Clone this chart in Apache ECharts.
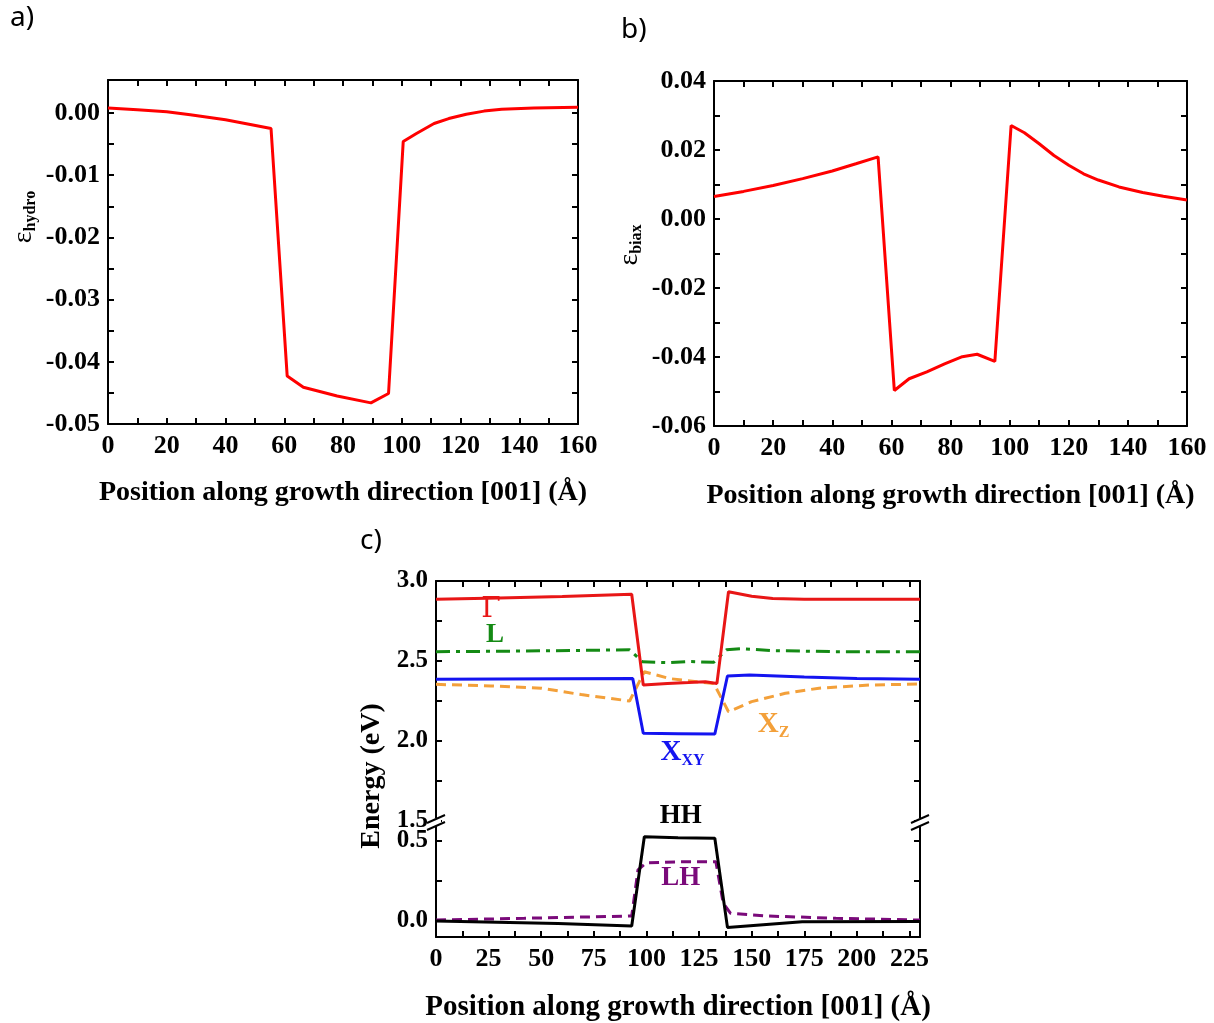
<!DOCTYPE html>
<html><head><meta charset="utf-8">
<script src="https://cdn.jsdelivr.net/npm/echarts@6/dist/echarts.min.js"></script>
<style>html,body{margin:0;padding:0;background:#fff}#c{width:1214px;height:1023px}</style>
</head><body><div id="c"></div>
<script>
// ---------- Panel a: hydrostatic strain ----------
const aX = [0, 10, 20, 28, 40, 48, 55.5, 61, 66.5, 78, 89.5, 95.5, 100.5, 105, 111, 116, 122, 128, 134, 145, 160];
const aY = [0.0008, 0.0005, 0.0002, -0.0003, -0.0011, -0.0018, -0.0025, -0.0423, -0.0441, -0.0455, -0.0466, -0.0451, -0.0046, -0.0033, -0.0017, -0.0009, -0.0002, 0.0003, 0.0006, 0.0008, 0.0009];
const aXTicks = [0,10,20,30,40,50,60,70,80,90,100,110,120,130,140,150,160];
const aXLabels = [0,20,40,60,80,100,120,140,160];
const aYTicks = [-0.05,-0.045,-0.04,-0.035,-0.03,-0.025,-0.02,-0.015,-0.01,-0.005,0];
const aYLabels = [-0.05,-0.04,-0.03,-0.02,-0.01,0];

// ---------- Panel b: biaxial strain ----------
const bX = [0, 10, 20, 30, 40, 48, 55.5, 61, 66, 72, 78, 84, 89, 95, 100.5, 105, 110, 115, 120, 125, 130, 137, 145, 152, 160];
const bY = [0.0065, 0.0080, 0.0097, 0.0117, 0.0139, 0.0160, 0.0180, -0.0497, -0.0463, -0.0443, -0.0420, -0.0399, -0.0392, -0.0413, 0.0271, 0.0250, 0.0218, 0.0184, 0.0156, 0.0131, 0.0113, 0.0093, 0.0077, 0.0066, 0.0055];
const bXTicks = aXTicks;
const bXLabels = aXLabels;
const bYTicks = [-0.06,-0.05,-0.04,-0.03,-0.02,-0.01,0,0.01,0.02,0.03,0.04];
const bYLabels = [-0.06,-0.04,-0.02,0,0.02,0.04];

// ---------- Panel c: band edges ----------
const gammaX = [0, 30, 60, 93, 98.5, 110, 120, 128, 133.5, 139, 150, 160, 175, 200, 230];
const gammaY = [2.886, 2.893, 2.903, 2.917, 2.35, 2.36, 2.365, 2.37, 2.36, 2.933, 2.905, 2.89, 2.886, 2.886, 2.886];
const lX = [0, 40, 92, 98, 110, 120, 132, 138, 145, 160, 190, 230];
const lY = [2.558, 2.562, 2.570, 2.495, 2.490, 2.497, 2.492, 2.570, 2.577, 2.565, 2.558, 2.558];
const xxyX = [0, 60, 93.5, 98.5, 115, 132.5, 138.5, 149, 175, 200, 230];
const xxyY = [2.386, 2.389, 2.390, 2.048, 2.046, 2.044, 2.406, 2.412, 2.400, 2.390, 2.386];
const xzX = [0, 26, 50, 69, 92, 99, 111, 124, 132, 139, 150, 166, 182, 206, 230];
const xzY = [2.354, 2.344, 2.330, 2.290, 2.250, 2.433, 2.390, 2.370, 2.360, 2.183, 2.246, 2.298, 2.330, 2.350, 2.356];
const hhX = [0, 58, 93, 99, 115, 132.5, 138.5, 174, 230];
const hhY = [0.0, -0.015, -0.031, 0.527, 0.520, 0.517, -0.040, -0.004, -0.003];
const lhX = [0, 42, 93, 96, 100, 115, 133, 136.5, 140, 158, 190, 230];
const lhY = [0.006, 0.017, 0.031, 0.32, 0.364, 0.370, 0.370, 0.11, 0.048, 0.031, 0.017, 0.006];
const cXTicks = [0,12.5,25,37.5,50,62.5,75,87.5,100,112.5,125,137.5,150,162.5,175,187.5,200,212.5,225];
const cXLabels = [0,25,50,75,100,125,150,175,200,225];
const cTopTicks = [1.5,1.75,2.0,2.25,2.5,2.75,3.0];
const cTopLabels = [1.5,2.0,2.5,3.0];
const cBotTicks = [0,0.25,0.5];
const cBotLabels = [0,0.5];

// annotations (data coordinates) for panel c
const annTopNames = ['Γ', 'L', 'XZ', 'XXY', 'HH'];
const annTopX = [26.1, 28, 160.4, 117.2, 116.3];
const annTopY = [2.82, 2.66, 2.10, 1.925, 1.531];
const annBotNames = ['LH'];
const annBotX = [116.3];
const annBotY = [0.269];

const SERIF = 'Liberation Serif';
const zip = (xs, ys) => xs.map((x, i) => [x, ys[i]]);

const chart = echarts.init(document.getElementById('c'), null, {renderer: 'canvas'});

const frame = {show: true, onZero: false, lineStyle: {color: '#000', width: 2}};
function tick(vals) { return {show: true, inside: true, length: 6, customValues: vals, lineStyle: {color: '#000', width: 2}}; }
function label(vals, fmt, size, margin) {
  return {show: true, customValues: vals, formatter: fmt, fontFamily: SERIF, fontWeight: 'bold',
          fontSize: size, color: '#000', margin: margin};
}
const noLabel = {show: false};

function xAxis(grid, pos, min, max, ticks, labels, fmt, lsize, name, nameSize, nameGap) {
  return {type: 'value', gridIndex: grid, position: pos, min: min, max: max,
    axisLine: frame,
    axisTick: tick(ticks), splitLine: {show: false}, minorTick: {show: false},
    axisLabel: labels ? label(labels, fmt, lsize, 9) : noLabel,
    name: name || '', nameLocation: 'middle', nameGap: nameGap || 0,
    nameTextStyle: {fontFamily: SERIF, fontWeight: 'bold', fontSize: nameSize || 28, color: '#000'}};
}
function yAxis(grid, pos, min, max, ticks, labels, fmt, lsize) {
  return {type: 'value', gridIndex: grid, position: pos, min: min, max: max,
    axisLine: frame, axisTick: tick(ticks), splitLine: {show: false}, minorTick: {show: false},
    axisLabel: labels ? label(labels, fmt, lsize, 8) : noLabel};
}
const f2 = v => v.toFixed(2);
const f1 = v => v.toFixed(1);
const f0 = v => String(Math.round(v));
const posTitle = 'Position along growth direction [001] (Å)';

function line(xi, yi, xs, ys, color, type) {
  return {type: 'line', xAxisIndex: xi, yAxisIndex: yi, data: zip(xs, ys), showSymbol: false,
    symbol: 'none', lineStyle: {color: color, width: 3, type: type || 'solid'}, z: 3, silent: true};
}

const annStyle = {
  'Γ':  {text: '{g|Γ}', color: '#e81616'},
  'L':  {text: '{b|L}', color: '#148a14'},
  'XZ': {text: '{m|X}{s|Z}', color: '#f3a03a'},
  'XXY': {text: '{m|X}{s|XY}', color: '#1414f0'},
  'HH': {text: '{b|HH}', color: '#000000'},
  'LH': {text: '{b|LH}', color: '#7a0a7a'}
};
function annRich() {
  return {
    g: {fontFamily: 'DejaVu Serif', fontSize: 28, fontWeight: 'normal'},
    b: {fontFamily: SERIF, fontSize: 27, fontWeight: 'bold'},
    m: {fontFamily: SERIF, fontSize: 29, fontWeight: 'bold'},
    s: {fontFamily: SERIF, fontSize: 16, fontWeight: 'bold', verticalAlign: 'bottom', padding: [16, 0, 0, 0]}
  };
}
function annSeries(xi, yi, names, xs, ys) {
  return {type: 'scatter', xAxisIndex: xi, yAxisIndex: yi, symbolSize: 0, silent: true, z: 5,
    itemStyle: {opacity: 1},
    data: names.map((n, i) => ({value: [xs[i], ys[i]],
      label: {show: true, position: 'inside', opacity: 1, formatter: annStyle[n].text,
              color: annStyle[n].color, textBorderWidth: 0, rich: annRich()}}))};
}

const option = {
  backgroundColor: '#fff',
  animation: false,
  grid: [
    {left: 108, top: 80, width: 470, height: 344},
    {left: 714, top: 81, width: 473, height: 345},
    {left: 436, top: 581, width: 484, height: 240},
    {left: 436, top: 821, width: 484, height: 116}
  ],
  xAxis: [
    xAxis(0, 'bottom', 0, 160, aXTicks, aXLabels, f0, 26, posTitle, 28, 55),
    xAxis(0, 'top', 0, 160, aXTicks, null),
    xAxis(1, 'bottom', 0, 160, bXTicks, bXLabels, f0, 26, posTitle, 28, 56),
    xAxis(1, 'top', 0, 160, bXTicks, null),
    xAxis(2, 'top', 0, 230, cXTicks, null),
    xAxis(3, 'bottom', 0, 230, cXTicks, cXLabels, f0, 26, posTitle, 29, 56)
  ],
  yAxis: [
    yAxis(0, 'left', -0.05, 0.0053, aYTicks, aYLabels, f2, 26),
    yAxis(0, 'right', -0.05, 0.0053, aYTicks, null),
    yAxis(1, 'left', -0.06, 0.04, bYTicks, bYLabels, f2, 26),
    yAxis(1, 'right', -0.06, 0.04, bYTicks, null),
    yAxis(2, 'left', 1.5, 3.0, cTopTicks, cTopLabels, f1, 25),
    yAxis(2, 'right', 1.5, 3.0, cTopTicks, null),
    yAxis(3, 'left', -0.1, 0.625, cBotTicks, cBotLabels, f1, 25),
    yAxis(3, 'right', -0.1, 0.625, cBotTicks, null)
  ],
  series: [
    line(0, 0, aX, aY, '#ff0000'),
    line(2, 2, bX, bY, '#ff0000'),
    line(4, 4, lX, lY, '#148a14', [14, 6, 4, 6]),
    line(4, 4, xzX, xzY, '#f3a03a', [10, 6]),
    line(4, 4, xxyX, xxyY, '#1414f0'),
    line(4, 4, gammaX, gammaY, '#e81616'),
    line(5, 6, lhX, lhY, '#7a0a7a', [10, 6]),
    line(5, 6, hhX, hhY, '#000000'),
    annSeries(4, 4, annTopNames, annTopX, annTopY),
    annSeries(5, 6, annBotNames, annBotX, annBotY)
  ],
  graphic: [
    {type: 'text', left: 10, top: 4, style: {text: 'a)', font: '28px "Noto Sans"', fill: '#000'}},
    {type: 'text', left: 621, top: 16, style: {text: 'b)', font: '28px "Noto Sans"', fill: '#000'}},
    {type: 'text', left: 360, top: 527, style: {text: 'c)', font: '28px "Noto Sans"', fill: '#000'}},
    {type: 'text', x: 24, y: 217, rotation: Math.PI / 2,
      style: {text: '{e|ε}{s|hydro}', align: 'center', verticalAlign: 'middle', fill: '#000',
        rich: {e: {fontFamily: SERIF, fontSize: 28}, s: {fontFamily: SERIF, fontSize: 16, fontWeight: 'bold', verticalAlign: 'bottom', padding: [14, 0, 0, 0]}}}},
    {type: 'text', x: 630, y: 245, rotation: Math.PI / 2,
      style: {text: '{e|ε}{s|biax}', align: 'center', verticalAlign: 'middle', fill: '#000',
        rich: {e: {fontFamily: SERIF, fontSize: 28}, s: {fontFamily: SERIF, fontSize: 16, fontWeight: 'bold', verticalAlign: 'bottom', padding: [14, 0, 0, 0]}}}},
    {type: 'text', x: 372, y: 776, rotation: Math.PI / 2,
      style: {text: 'Energy (eV)', align: 'center', verticalAlign: 'middle', fill: '#000',
        font: 'bold 28px "Liberation Serif"'}},
    // axis break marks
    {type: 'rect', shape: {x: 432, y: 818, width: 9, height: 8}, style: {fill: '#fff'}, z: 100},
    {type: 'line', shape: {x1: 427, y1: 823, x2: 445, y2: 815}, style: {stroke: '#000', lineWidth: 2}, z: 101},
    {type: 'line', shape: {x1: 427, y1: 830, x2: 445, y2: 822}, style: {stroke: '#000', lineWidth: 2}, z: 101},
    {type: 'rect', shape: {x: 916, y: 818, width: 9, height: 8}, style: {fill: '#fff'}, z: 100},
    {type: 'line', shape: {x1: 911, y1: 823, x2: 929, y2: 815}, style: {stroke: '#000', lineWidth: 2}, z: 101},
    {type: 'line', shape: {x1: 911, y1: 830, x2: 929, y2: 822}, style: {stroke: '#000', lineWidth: 2}, z: 101}
  ]
};
chart.setOption(option);
</script></body></html>
